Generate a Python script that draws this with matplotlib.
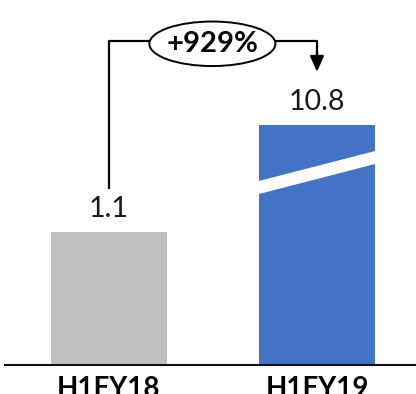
import numpy as np
import matplotlib
matplotlib.use("Agg")
import matplotlib.pyplot as plt
from matplotlib.patches import Ellipse, Polygon
import matplotlib.transforms as mtransforms

periods = ["H1FY18", "H1FY19"]
values = [1.1, 10.8]
bar_colors = ["#BFBFBF", "#4472C4"]
growth_label = "+929%"

plt.rcParams["font.family"] = ["Lato", "DejaVu Sans"]

# broken value axis: linear up to the break, strongly compressed above it
BREAK = 1.5
SQUEEZE = 0.0522


def forward(y):
    y = np.asarray(y, dtype=float)
    return np.where(y <= BREAK, y, BREAK + (y - BREAK) * SQUEEZE)


def inverse(t):
    t = np.asarray(t, dtype=float)
    return np.where(t <= BREAK, t, BREAK + (t - BREAK) / SQUEEZE)


fig = plt.figure(figsize=(4.16, 3.94), dpi=100)
ax = fig.add_axes([5 / 416, 29 / 394, 411 / 416, 365 / 394])
ax.set_yscale("function", functions=(forward, inverse))

x = np.arange(len(periods))
width = 0.558
bars = ax.bar(x, values, width=width, color=bar_colors, zorder=2)

ax.set_xlim(-0.5, 1.476)
ax.set_ylim(0, inverse(3.019))

# value labels above the bars
for xi, v in zip(x, values):
    ax.annotate(f"{v:.1f}", (xi, v), xytext=(0, 16.5), textcoords="offset points",
                ha="center", va="center", fontsize=20.5, color="#1a1a1a")

# white slanted gap marking the axis break on the tall bar
blended = mtransforms.blended_transform_factory(ax.transData, ax.transAxes)
x0 = x[1] - width / 2 - 0.02
x1 = x[1] + width / 2 + 0.02
slope = (30 / 365) / width
yl = 171 / 365
th = 13 / 365
gap = Polygon([[x0, yl - slope * 0.02], [x1, yl + slope * (width + 0.02)],
               [x1, yl + slope * (width + 0.02) + th], [x0, yl - slope * 0.02 + th]],
              closed=True, facecolor="white", edgecolor="none",
              transform=blended, zorder=3)
ax.add_patch(gap)

# growth connector with ellipse badge
y_line = 0.888
ex, ey, ew, eh = 0.497, 0.880, 0.606, 0.122
ax.plot([x[0], x[0], ex - ew / 2], [0.482, y_line, y_line], color="black",
        lw=1.6, transform=blended, solid_capstyle="butt", zorder=4)
ax.plot([ex + ew / 2, x[1], x[1]], [y_line, y_line, 0.84], color="black",
        lw=1.6, transform=blended, solid_capstyle="butt", zorder=4)
ax.annotate("", xy=(x[1], 0.803), xytext=(x[1], 0.86), xycoords=blended,
            textcoords=blended,
            arrowprops=dict(arrowstyle="-|>,head_length=0.95,head_width=0.42",
                            color="black", lw=1.6, shrinkA=0, shrinkB=0))
ell = Ellipse((ex, ey), ew, eh, facecolor="white", edgecolor="black", lw=1.4,
              transform=blended, zorder=5)
ax.add_patch(ell)
ax.text(ex, ey, growth_label, transform=blended, ha="center", va="center",
        fontsize=21, fontweight="bold", zorder=6)

ax.set_xticks(x)
ax.set_xticklabels(periods, fontsize=20, fontweight="bold")
ax.tick_params(axis="x", length=0, pad=8)
ax.set_yticks([])
for side in ["top", "right", "left"]:
    ax.spines[side].set_visible(False)
ax.spines["bottom"].set_linewidth(1.5)
ax.spines["bottom"].set_color("#111111")
ax.spines["bottom"].set_zorder(4)

fig.savefig("out.png", dpi=100)
